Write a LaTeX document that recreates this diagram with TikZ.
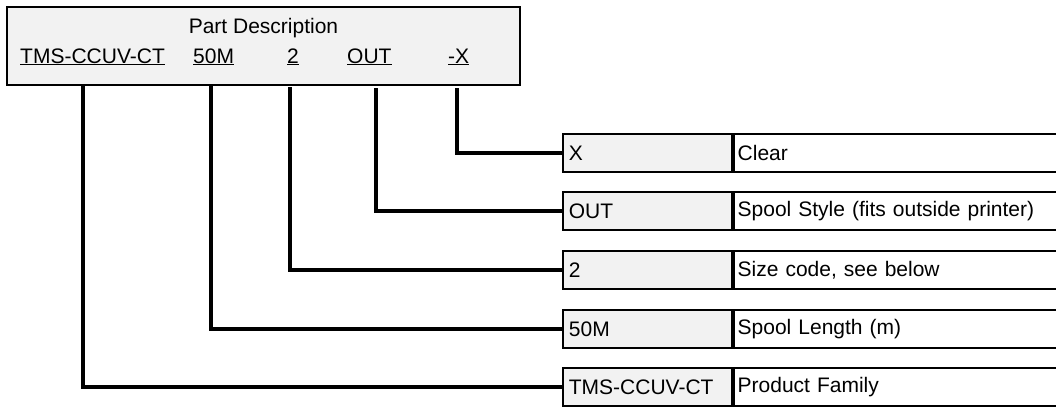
\documentclass[tikz,border=0pt]{standalone}
\usepackage{fontspec}
\setmainfont{Liberation Sans}
\usetikzlibrary{positioning}
\definecolor{cellgray}{HTML}{F2F2F2}

\tikzset{
  txt/.style={font=\fontsize{21bp}{25bp}\selectfont},
  codecell/.style={txt, draw, line width=1.8bp, fill=cellgray, anchor=west,
    minimum width=169bp, minimum height=38bp, text width=157bp, align=left, inner sep=5bp},
  meancell/.style={txt, draw, line width=1.8bp, fill=white,
    minimum width=340bp, minimum height=38bp, text width=332bp, align=left, inner sep=2bp},
  lbl/.style={txt, anchor=base west, inner sep=0pt},
  leader/.style={line width=4.5bp},
}

\begin{document}
\begin{tikzpicture}[x=1bp, y=-1bp]
  \clip (0,0) rectangle (1056,410);

  % part number box
  \node[draw, line width=2bp, fill=cellgray, minimum width=513bp, minimum height=78bp] (header) at (263.5,46) {};
  \node[txt, anchor=base, inner sep=0pt] (title) at (263.5,33) {Part Description};
  \node[lbl] (lfam) at (20,63) {\underline{TMS-CCUV-CT}};
  \node[lbl] (llen) at (193,63) {\underline{50M}};
  \node[lbl] (lsize) at (287,63) {\underline{2}};
  \node[lbl] (lstyle) at (347,63) {\underline{OUT}};
  \node[lbl] (lclr) at (448,63) {\underline{-X}};

  % legend rows
  \node[codecell] (bclr) at (562,153) {X};
  \node[meancell, right=0pt of bclr] (mclr) {Clear};
  \node[codecell] (bstyle) at (562,211) {OUT};
  \node[meancell, right=0pt of bstyle] (mstyle) {Spool Style (fits outside printer)};
  \node[codecell] (bsize) at (562,270) {2};
  \node[meancell, right=0pt of bsize] (msize) {Size code, see below};
  \node[codecell] (blen) at (562,329) {50M};
  \node[meancell, right=0pt of blen] (mlen) {Spool Length (m)};
  \node[codecell] (bfam) at (562,387) {TMS-CCUV-CT};
  \node[meancell, right=0pt of bfam] (mfam) {Product Family};

  % leaders from the header to each row
  \coordinate (sfam) at (83,86);
  \coordinate (slen) at (211,86);
  \coordinate (ssize) at (290,87);
  \coordinate (sstyle) at (376,88);
  \coordinate (sclr) at (457,88);
  \draw[leader] (sclr) |- (bclr.west);
  \draw[leader] (sstyle) |- (bstyle.west);
  \draw[leader] (ssize) |- (bsize.west);
  \draw[leader] (slen) |- (blen.west);
  \draw[leader] (sfam) |- (bfam.west);
\end{tikzpicture}
\end{document}
